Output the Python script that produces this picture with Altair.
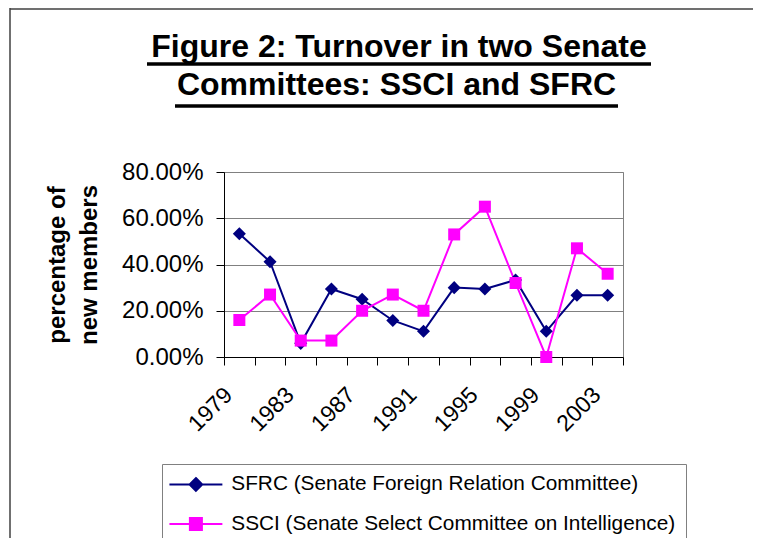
import altair as alt
import pandas as pd

# ---- data ----
YEARS = [1979, 1981, 1983, 1985, 1987, 1989, 1991, 1993, 1995, 1997, 1999, 2001, 2003]
SFRC = [0.533, 0.412, 0.059, 0.294, 0.25, 0.158, 0.111, 0.30, 0.294, 0.333, 0.111, 0.267, 0.267]
SSCI = [0.16, 0.27, 0.071, 0.071, 0.20, 0.27, 0.20, 0.53, 0.65, 0.32, 0.0, 0.47, 0.36]
SERIES = ["SFRC (Senate Foreign Relation Committee)",
          "SSCI (Senate Select Committee on Intelligence)"]
COLORS = ["#000080", "#FF00FF"]
TITLE_LINES = ["Figure 2: Turnover in two Senate", "Committees: SSCI and SFRC"]
Y_TITLE = ["percentage of", "new members"]
Y_TICKS = [0, 0.2, 0.4, 0.6, 0.8]
LABELED_YEARS = [1979, 1983, 1987, 1991, 1995, 1999, 2003]

df = pd.DataFrame({
    "year": YEARS + YEARS,
    "value": SFRC + SSCI,
    "series": [SERIES[0]] * len(YEARS) + [SERIES[1]] * len(YEARS),
})
one = pd.DataFrame({"k": [0]})

FONT = "Liberation Sans"

x_enc = alt.X(
    "year:O",
    scale=alt.Scale(type="band", paddingInner=0, paddingOuter=0),
    axis=alt.Axis(
        title=None, tickBand="extent", tickSize=8, tickColor="black", domainColor="black",
        labelAngle=-45, labelAlign="right", labelBaseline="middle",
        labelFontSize=23, labelFont=FONT, labelColor="black",
        labelPadding=26, labelOffset=-11, labelOverlap=False, labelBound=False,
        labelExpr=f"indexof({LABELED_YEARS}, toNumber(datum.value)) >= 0 ? datum.label : ''",
    ),
)
y_enc = alt.Y(
    "value:Q",
    scale=alt.Scale(domain=[0, 0.8], nice=False),
    axis=alt.Axis(
        title=Y_TITLE, values=Y_TICKS, format=".2%", grid=True, gridColor="#808080", gridWidth=1,
        tickSize=8, tickColor="black", domainColor="black",
        labelFontSize=24, labelFont=FONT, labelColor="black", labelPadding=13,
        titleFont=FONT, titleFontSize=24, titleFontWeight="bold", titleColor="black",
        titlePadding=20, titleLineHeight=32,
    ),
)
color_enc = alt.Color("series:N", scale=alt.Scale(domain=SERIES, range=COLORS), legend=None)

base = alt.Chart(df)
lines = base.mark_line(strokeWidth=2).encode(x=x_enc, y=y_enc, color=color_enc)
pts_a = base.transform_filter(alt.datum.series == SERIES[0]).mark_point(
    shape="diamond", filled=True, size=170, opacity=1).encode(x=x_enc, y=y_enc, color=color_enc)
pts_b = base.transform_filter(alt.datum.series == SERIES[1]).mark_point(
    shape="square", filled=True, size=144, opacity=1).encode(x=x_enc, y=y_enc, color=color_enc)

# legend-only layer (invisible marks), symbols = line + marker (unit = 8px)
DIAMOND_LINE = "M-3.31,0L3.31,0M0,-0.79L0.79,0L0,0.79L-0.79,0Z"
SQUARE_LINE = "M-3.31,0L3.31,0M-0.75,-0.75L0.75,-0.75L0.75,0.75L-0.75,0.75Z"
leg = alt.Legend(
    title=None, orient="none", legendX=-62, legendY=292, padding=10,
    strokeColor="#808080", fillColor="white", cornerRadius=0,
    symbolSize=256, symbolStrokeWidth=2, symbolOffset=13.5, symbolOpacity=1,
    labelFontSize=20.8, labelFont=FONT, labelColor="black", labelOffset=25, labelLimit=0,
    rowPadding=17.5,
)
legend_layer = base.mark_point(filled=True, opacity=0, strokeWidth=2).encode(
    x=x_enc, y=y_enc,
    fill=alt.Fill("series:N", scale=alt.Scale(domain=SERIES, range=COLORS), legend=leg),
    stroke=alt.Stroke("series:N", scale=alt.Scale(domain=SERIES, range=COLORS), legend=leg),
    shape=alt.Shape("series:N", scale=alt.Scale(domain=SERIES, range=[DIAMOND_LINE, SQUARE_LINE]), legend=leg),
)

# title with underlines
dec = alt.Chart(one)
t1 = dec.mark_text(text=TITLE_LINES[0], font=FONT, fontSize=32, fontWeight="bold",
                   align="center", baseline="alphabetic", color="black").encode(
    x=alt.value(175), y=alt.value(-115))
t2 = dec.mark_text(text=TITLE_LINES[1], font=FONT, fontSize=32, fontWeight="bold",
                   align="center", baseline="alphabetic", color="black").encode(
    x=alt.value(172.5), y=alt.value(-77))
u1 = dec.mark_rule(color="black", strokeWidth=3.5).encode(
    x=alt.value(-77), x2=alt.value(427), y=alt.value(-108))
u2 = dec.mark_rule(color="black", strokeWidth=3.5).encode(
    x=alt.value(-49), x2=alt.value(394), y=alt.value(-66))
# outer frame (left and top)
f_left = dec.mark_rule(color="#404040", strokeWidth=1.5).encode(
    x=alt.value(-214), y=alt.value(-164), y2=alt.value(366))
f_top = dec.mark_rule(color="#404040", strokeWidth=1.5).encode(
    x=alt.value(-214), x2=alt.value(529), y=alt.value(-163))

chart = alt.layer(legend_layer, lines, pts_a, pts_b, t1, t2, u1, u2, f_left, f_top).properties(
    width=399, height=185,
    autosize=alt.AutoSizeParams(type="none"),
    padding={"left": 216, "top": 164, "right": 130, "bottom": 181},
    background="white",
).configure_view(stroke="#808080", strokeWidth=1)

chart.save("out.html", embed_options={"renderer": "svg", "actions": False})
